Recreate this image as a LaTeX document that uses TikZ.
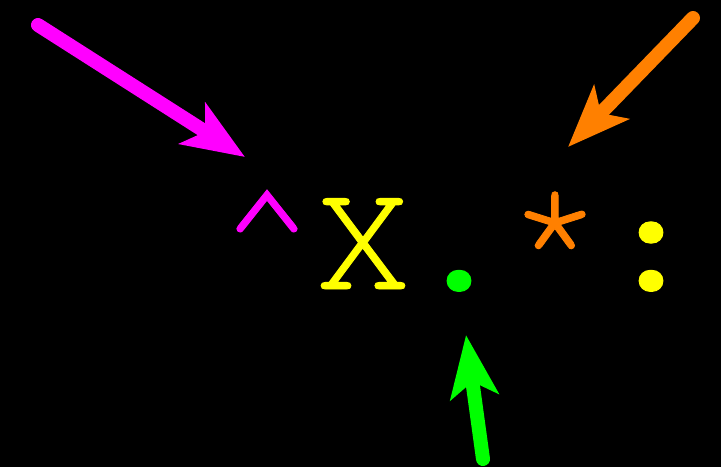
\documentclass[tikz,border=0pt]{standalone}
\usepackage{fontspec}
\newfontfamily\codefont{texgyrecursor-regular.otf}[FakeBold=0.6]
\usetikzlibrary{arrows.meta}
\definecolor{pinkish}{RGB}{255,0,255}
\definecolor{ambers}{RGB}{255,128,0}
\definecolor{limes}{RGB}{0,255,0}
\definecolor{lemons}{RGB}{255,255,0}

\begin{document}
\begin{tikzpicture}[
  x=1pt, y=-1pt,
  glyph/.style={anchor=base, inner sep=0pt, font=\codefont\fontsize{161}{161}\selectfont},
  pointer/.style={line width=14pt, line cap=round,
    -{Stealth[length=62pt, width=48pt, inset=15pt]}}
]

\fill[black] (0,0) rectangle (721,467);
\useasboundingbox (0,0) rectangle (721,467);

% the pattern, one character per node
\node[glyph, text=pinkish] (caret) at (267,289) {\^{}};
\node[glyph, text=lemons] (xchar) at (363,289) {X};
\node[glyph, text=limes] (dotchar) at (459,289) {.};
\node[glyph, text=ambers] (star) at (555,289) {*};
\node[glyph, text=lemons] (colon) at (651,289) {:};

% pointers
\coordinate (magtail) at (38,25);
\coordinate (magtip) at (245,157);
\coordinate (orgtail) at (693,18);
\coordinate (orgtip) at (568,147);
\coordinate (grntail) at (483,459);
\coordinate (grntip) at (466,335);

\draw[pointer, pinkish] (magtail) -- (magtip);
\draw[pointer, ambers] (orgtail) -- (orgtip);
\draw[pointer, limes] (grntail) -- (grntip);

\end{tikzpicture}
\end{document}
